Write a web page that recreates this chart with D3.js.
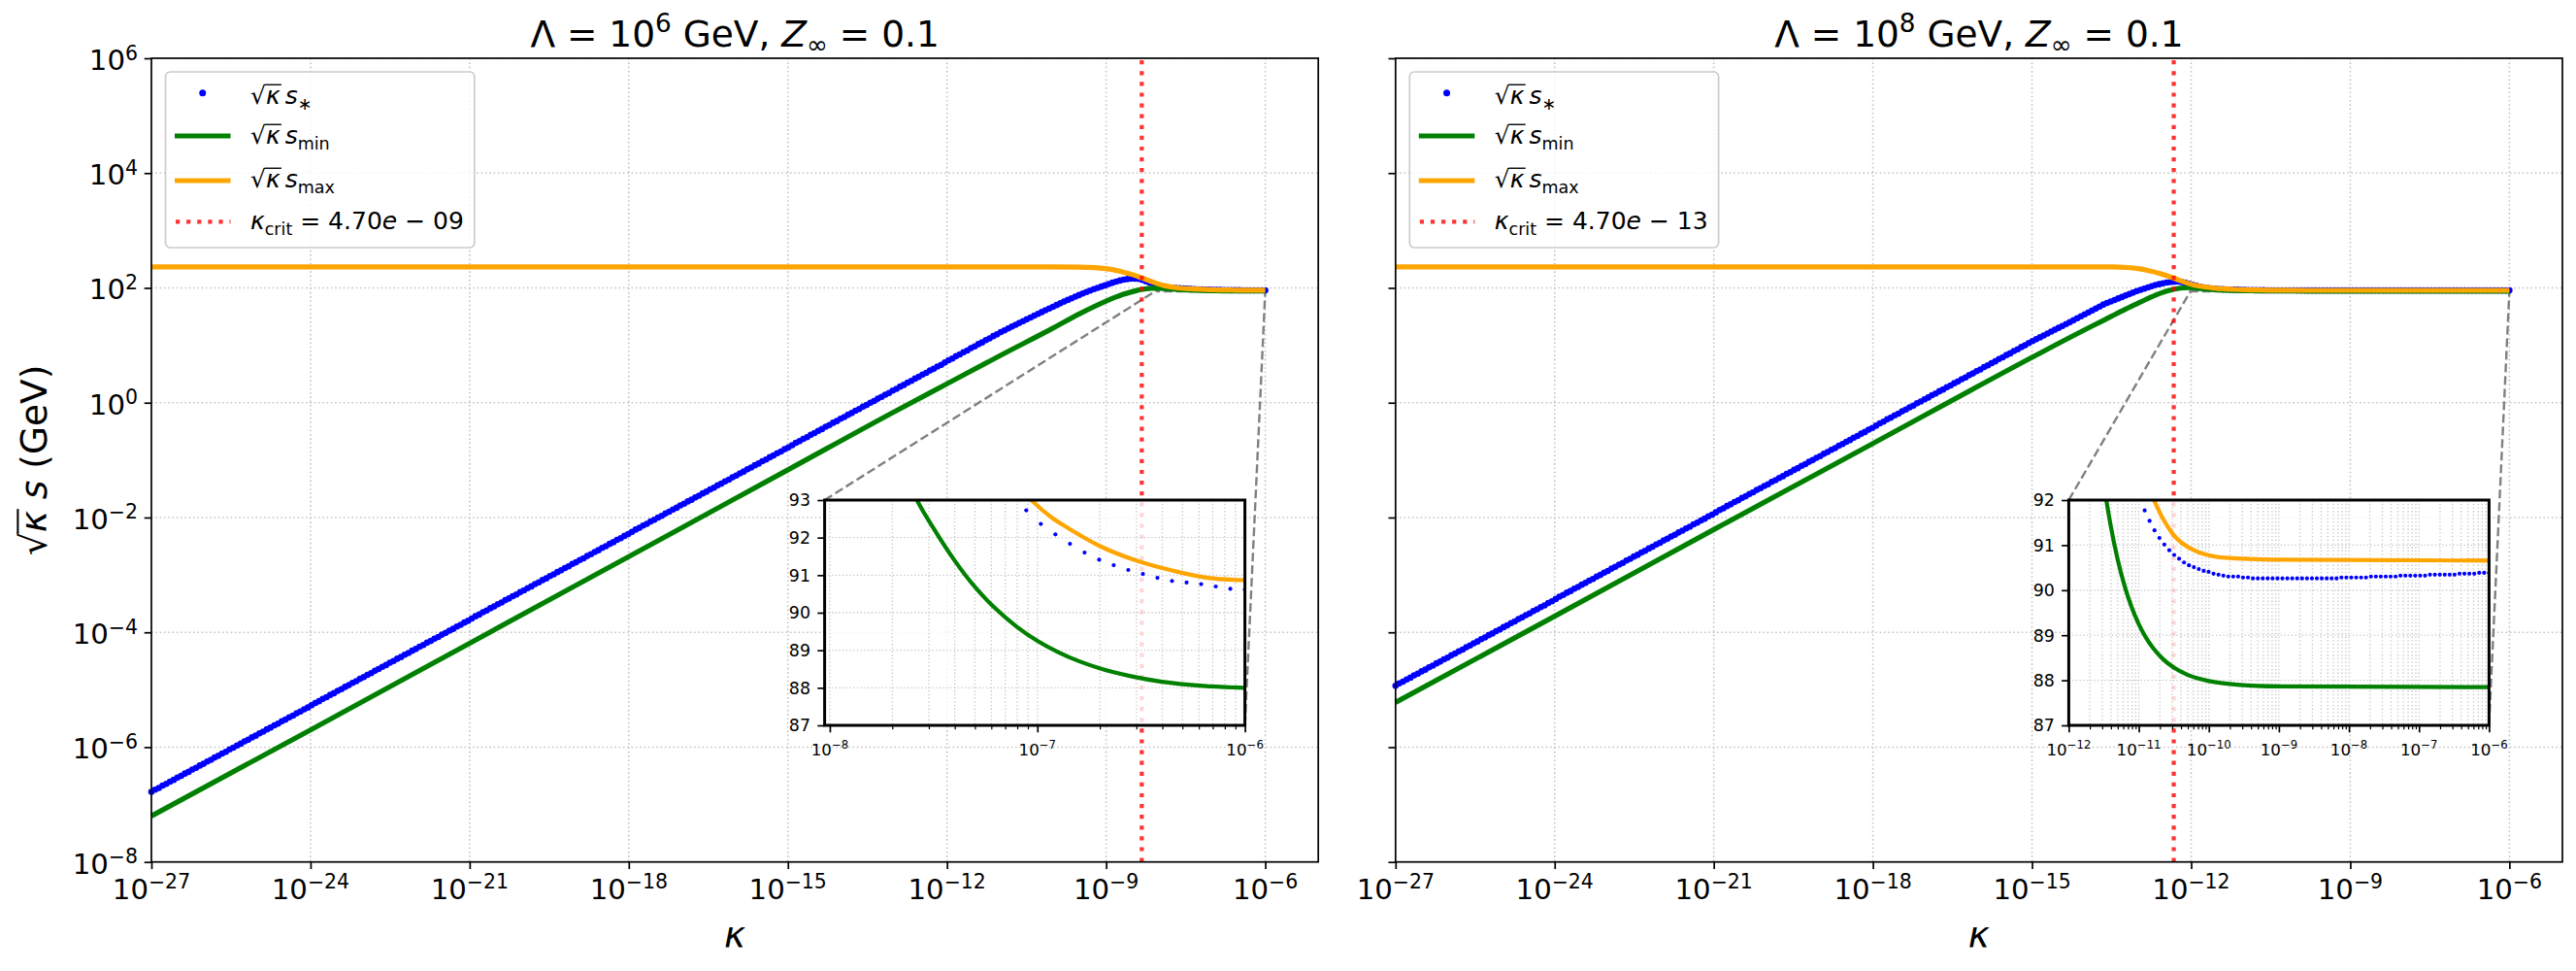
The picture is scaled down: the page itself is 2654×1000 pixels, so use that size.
<!DOCTYPE html>
<html>
<head>
<meta charset="utf-8">
<script src="https://cdn.jsdelivr.net/npm/d3@7"></script>
<style>
  body { margin: 0; background: #fff; }
  svg text { font-family: "DejaVu Sans", sans-serif; white-space: pre; fill: #000; }
</style>
</head>
<body>
<div id="chart"></div>
<script>
const width = 2654;
const height = 1000;

// kappa samples of the s* scan: 300 log-spaced points from 1e-27 to 1e-6
const kappaExp = d3.range(300).map(i => -27 + (21 * i) / 299);

// log10 of sqrt(kappa) s_* in GeV, one value per kappa sample
const sStarLeft = [
  -6.78,-6.74,-6.71,-6.67,-6.64,-6.60,-6.57,-6.53,-6.50,-6.46,
  -6.43,-6.39,-6.36,-6.32,-6.29,-6.25,-6.22,-6.18,-6.15,-6.11,
  -6.08,-6.04,-6.01,-5.97,-5.94,-5.90,-5.87,-5.83,-5.80,-5.76,
  -5.73,-5.69,-5.66,-5.62,-5.59,-5.55,-5.52,-5.48,-5.45,-5.41,
  -5.38,-5.34,-5.31,-5.27,-5.23,-5.20,-5.16,-5.13,-5.09,-5.06,
  -5.02,-4.99,-4.95,-4.92,-4.88,-4.85,-4.81,-4.78,-4.74,-4.71,
  -4.67,-4.64,-4.60,-4.57,-4.53,-4.50,-4.46,-4.43,-4.39,-4.36,
  -4.32,-4.29,-4.25,-4.22,-4.18,-4.15,-4.11,-4.08,-4.04,-4.01,
  -3.97,-3.94,-3.90,-3.87,-3.83,-3.80,-3.76,-3.72,-3.69,-3.65,
  -3.62,-3.58,-3.55,-3.51,-3.48,-3.44,-3.41,-3.37,-3.34,-3.30,
  -3.27,-3.23,-3.20,-3.16,-3.13,-3.09,-3.06,-3.02,-2.99,-2.95,
  -2.92,-2.88,-2.85,-2.81,-2.78,-2.74,-2.71,-2.67,-2.64,-2.60,
  -2.57,-2.53,-2.50,-2.46,-2.43,-2.39,-2.36,-2.32,-2.29,-2.25,
  -2.21,-2.18,-2.14,-2.11,-2.07,-2.04,-2.00,-1.97,-1.93,-1.90,
  -1.86,-1.83,-1.79,-1.76,-1.72,-1.69,-1.65,-1.62,-1.58,-1.55,
  -1.51,-1.48,-1.44,-1.41,-1.37,-1.34,-1.30,-1.27,-1.23,-1.20,
  -1.16,-1.13,-1.09,-1.06,-1.02,-0.99,-0.95,-0.92,-0.88,-0.85,
  -0.81,-0.78,-0.74,-0.70,-0.67,-0.63,-0.60,-0.56,-0.53,-0.49,
  -0.46,-0.42,-0.39,-0.35,-0.32,-0.28,-0.25,-0.21,-0.18,-0.14,
  -0.11,-0.07,-0.04,0.00,0.03,0.07,0.10,0.14,0.17,0.21,
  0.24,0.28,0.31,0.35,0.38,0.42,0.45,0.49,0.52,0.56,
  0.59,0.63,0.66,0.70,0.74,0.77,0.81,0.84,0.88,0.91,
  0.95,0.98,1.02,1.05,1.09,1.12,1.16,1.19,1.23,1.261,
  1.294,1.326,1.358,1.389,1.420,1.453,1.484,1.516,1.548,1.579,
  1.610,1.641,1.671,1.701,1.732,1.761,1.790,1.819,1.847,1.875,
  1.902,1.928,1.954,1.978,2.001,2.023,2.044,2.068,2.090,2.110,
  2.128,2.143,2.154,2.160,2.161,2.155,2.140,2.116,2.088,2.060,
  2.037,2.022,2.012,2.006,2.001,1.9975,1.9932,1.9884,1.9842,1.9805,
  1.9772,1.9742,1.9716,1.9693,1.9672,1.9655,1.9642,1.9630,1.9619,1.9610,
  1.9603,1.9597,1.9592,1.9587,1.9583,1.9581,1.9579,1.9576,1.9573,1.9572
];
const sStarRight = [
  -4.93,-4.89,-4.86,-4.82,-4.79,-4.75,-4.72,-4.68,-4.65,-4.61,
  -4.58,-4.54,-4.51,-4.47,-4.44,-4.40,-4.37,-4.33,-4.30,-4.26,
  -4.23,-4.19,-4.16,-4.12,-4.09,-4.05,-4.02,-3.98,-3.95,-3.91,
  -3.88,-3.84,-3.81,-3.77,-3.74,-3.70,-3.67,-3.63,-3.60,-3.56,
  -3.53,-3.49,-3.46,-3.42,-3.38,-3.35,-3.31,-3.28,-3.24,-3.21,
  -3.17,-3.14,-3.10,-3.07,-3.03,-3.00,-2.96,-2.93,-2.89,-2.86,
  -2.82,-2.79,-2.75,-2.72,-2.68,-2.65,-2.61,-2.58,-2.54,-2.51,
  -2.47,-2.44,-2.40,-2.37,-2.33,-2.30,-2.26,-2.23,-2.19,-2.16,
  -2.12,-2.09,-2.05,-2.02,-1.98,-1.95,-1.91,-1.87,-1.84,-1.80,
  -1.77,-1.73,-1.70,-1.66,-1.63,-1.59,-1.56,-1.52,-1.49,-1.45,
  -1.42,-1.38,-1.35,-1.31,-1.28,-1.24,-1.21,-1.17,-1.14,-1.10,
  -1.07,-1.03,-1.00,-0.96,-0.93,-0.89,-0.86,-0.82,-0.79,-0.75,
  -0.72,-0.68,-0.65,-0.61,-0.58,-0.54,-0.51,-0.47,-0.44,-0.40,
  -0.36,-0.33,-0.29,-0.26,-0.22,-0.19,-0.15,-0.12,-0.08,-0.05,
  -0.01,0.02,0.06,0.09,0.13,0.16,0.20,0.23,0.27,0.30,
  0.34,0.37,0.41,0.44,0.48,0.51,0.55,0.58,0.62,0.65,
  0.69,0.72,0.76,0.79,0.83,0.86,0.90,0.93,0.97,1.00,
  1.040,1.073,1.106,1.139,1.172,1.205,1.238,1.271,1.304,1.337,
  1.369,1.402,1.436,1.470,1.504,1.538,1.573,1.607,1.641,1.675,
  1.710,1.737,1.763,1.789,1.815,1.841,1.867,1.892,1.918,1.944,
  1.965,1.986,2.008,2.029,2.050,2.065,2.078,2.092,2.102,2.106,
  2.110,2.103,2.090,2.072,2.054,2.037,2.022,2.009,1.999,1.991,
  1.9845,1.9795,1.9758,1.9728,1.9705,1.9688,1.9673,1.9658,1.9642,1.9627,
  1.9616,1.9606,1.9598,1.9591,1.9585,1.9580,1.9576,1.9572,1.9569,1.9567,
  1.9565,1.9563,1.9562,1.9560,1.9559,1.9558,1.9557,1.9557,1.9557,1.9556,
  1.9556,1.9555,1.9555,1.9555,1.9555,1.9555,1.9555,1.9555,1.9555,1.9555,
  1.9555,1.9555,1.9555,1.9555,1.9555,1.9555,1.9555,1.9555,1.9555,1.9556,
  1.9556,1.9556,1.9556,1.9556,1.9556,1.9557,1.9557,1.9557,1.9557,1.9557,
  1.9557,1.9558,1.9558,1.9558,1.9558,1.9558,1.9558,1.9559,1.9559,1.9559,
  1.9559,1.9559,1.9559,1.9560,1.9560,1.9560,1.9560,1.9561,1.9561,1.9561
];

// [log10 kappa, log10(sqrt(kappa) s / GeV)]
const sMinLeft = [
  [-27,-7.20],[-24,-5.70],[-21,-4.19],[-18,-2.68],[-15,-1.17],[-13,-0.16],[-12,0.33],
  [-11,0.82],[-10,1.30],[-9.5,1.55],[-9,1.77],[-8.7,1.88],[-8.4,1.96],[-8.15,1.995],
  [-7.95,1.995],[-7.75,1.980],[-7.58,1.96848],[-7.5,1.96496],[-7.4,1.96095],[-7.3,1.95751],
  [-7.2,1.95473],[-7.1,1.95245],[-7.0,1.95061],[-6.9,1.94915],[-6.8,1.94797],[-6.7,1.94704],
  [-6.55,1.94601],[-6.4,1.94527],[-6.2,1.94473],[-6.0,1.94448]
];
const sMaxLeft = [
  [-27,2.365],[-10,2.365],[-9.5,2.360],[-9.0,2.335],[-8.7,2.280],[-8.5,2.230],[-8.33,2.175],
  [-8.1,2.095],[-7.9,2.040],[-7.65,2.000],[-7.35,1.980],[-7.03,1.9685],[-6.931,1.9663],
  [-6.847,1.9649],[-6.705,1.9628],[-6.513,1.9608],[-6.346,1.9596],[-6.179,1.9587],[-6.0,1.9584]
];
const sMinRight = [
  [-27,-5.22],[-24,-3.72],[-21,-2.21],[-18,-0.71],[-15,0.79],[-14.25,1.155],[-13.64,1.44],
  [-13.3,1.60],[-13.03,1.72],[-12.8,1.82],[-12.6,1.90],[-12.33,1.975],[-12.15,2.0],[-12.0,2.005],
  [-11.8,1.9868],[-11.6,1.97108],[-11.464,1.96379],[-11.4,1.96104],[-11.3,1.95746],[-11.2,1.95463],
  [-11.1,1.95238],[-11.0,1.95059],[-10.9,1.94916],[-10.8,1.94803],[-10.65,1.94676],[-10.5,1.94587],
  [-10.3,1.94507],[-10.0,1.94440],[-9.6,1.94400],[-9.0,1.94381],[-6.0,1.94374]
];
const sMaxRight = [
  [-27,2.365],[-13.5,2.365],[-13.2,2.355],[-13.0,2.335],[-12.8,2.30],[-12.6,2.255],[-12.4,2.195],
  [-12.2,2.125],[-12.0,2.065],[-11.8,2.025],[-11.5,1.990],[-11.2,1.974],[-11.0,1.967],
  [-10.785,1.9638],[-10.66,1.9619],[-10.513,1.9602],[-10.215,1.9585],[-9.769,1.9577],
  [-9.025,1.9575],[-6.0,1.9574]
];

const kappaTickExp = [-27, -24, -21, -18, -15, -12, -9, -6];
const sTickExp = [-8, -6, -4, -2, 0, 2, 4, 6];
const lambdaExp = ["6", "8"];
const kappaCrit = [4.70e-9, 4.70e-13];
const kappaCritLabel = ["4.70e − 09", "4.70e − 13"];
const insetKappaExp = [[-8.025, -6], [-12, -6]];
const insetS = [[87, 93], [87, 92]];

// layout
const axTop = 60, axBottom = 887.7, axW = 1202.2;
const panelLeft = [156, 1437.8];
const gridColor = "#c6c6c6";

const svg = d3.select("#chart").append("svg")
  .attr("width", width).attr("height", height)
  .style("background", "#fff");

// small mathtext-like renderer: pieces placed one after another
function mathText(parent, segs, size, o = {}) {
  const g = parent.append("g");
  const supDy = o.supDy ?? 0.36, subDy = o.subDy ?? 0.22;
  let cx = 0;
  const bars = [];
  segs.forEach(s => {
    const small = s.sub || s.sup;
    const t = g.append("text")
      .attr("x", cx)
      .attr("y", s.sub ? size * subDy : s.sup ? -size * supDy : 0)
      .attr("font-size", small ? size * 0.7 : size)
      .attr("font-style", s.it ? "italic" : "normal")
      .text(s.t);
    const w = t.node().getComputedTextLength();
    if (s.bar) bars.push([cx, cx + w]);
    cx += w;
  });
  bars.forEach(([a, b]) => {
    g.append("line")
      .attr("x1", a - size * 0.02).attr("x2", b + size * 0.05)
      .attr("y1", -size * 0.79).attr("y2", -size * 0.79)
      .attr("stroke", "#000").attr("stroke-width", size * 0.055);
  });
  return { g, w: cx };
}
function place(m, x, y, anchor = "start", rot = 0) {
  const dx = anchor === "middle" ? -m.w / 2 : anchor === "end" ? -m.w : 0;
  m.g.attr("transform", `translate(${x},${y}) rotate(${rot}) translate(${dx},0)`);
}
const pow10 = e => [{ t: "10" }, { t: (e < 0 ? "−" : "") + Math.abs(e), sup: true }];
const sqrtKappa = [{ t: "√" }, { t: "κ", it: true, bar: true }];

function styleAxis(sel, w) {
  sel.select(".domain").remove();
  sel.selectAll(".tick line").attr("stroke", "#000").attr("stroke-width", w);
}

function drawPanel(k) {
  const left = panelLeft[k], right = left + axW;
  const sStar = k === 0 ? sStarLeft : sStarRight;
  const sMin = k === 0 ? sMinLeft : sMinRight;
  const sMax = k === 0 ? sMaxLeft : sMaxRight;

  const x = d3.scaleLog().domain([1e-27, 1e-5]).range([left, right]);
  const y = d3.scaleLog().domain([1e-8, 1e6]).range([axBottom, axTop]);
  const X = e => x(10 ** e), Y = v => y(10 ** v);
  const g = svg.append("g");

  // grid
  const grid = g.append("g").attr("stroke", gridColor)
    .attr("stroke-width", 1.6).attr("stroke-dasharray", "1.6,2.7");
  kappaTickExp.forEach(e => grid.append("line")
    .attr("x1", X(e)).attr("x2", X(e)).attr("y1", axTop).attr("y2", axBottom));
  sTickExp.forEach(e => grid.append("line")
    .attr("x1", left).attr("x2", right).attr("y1", Y(e)).attr("y2", Y(e)));

  // inset geometry
  const ins = { x: left + 693.6, y: 515, w: 433, h: 232 };
  const [kx0, kx1] = insetKappaExp[k];
  const [s0, s1] = insetS[k];
  const ix = d3.scaleLog().domain([10 ** kx0, 10 ** kx1]).range([ins.x, ins.x + ins.w]);
  const iy = d3.scaleLinear().domain([s0, s1]).range([ins.y + ins.h, ins.y]);

  // zoom box and connectors
  const rx0 = X(kx0), rx1 = X(kx1), ry0 = y(s1), ry1 = y(s0);
  const conn = g.append("g").attr("stroke", "#808080").attr("stroke-width", 2.4)
    .attr("stroke-dasharray", "9,4").attr("fill", "none");
  conn.append("rect").attr("x", rx0).attr("y", ry0).attr("width", rx1 - rx0).attr("height", ry1 - ry0);
  conn.append("line").attr("x1", ins.x).attr("y1", ins.y).attr("x2", rx0).attr("y2", ry0);
  conn.append("line").attr("x1", ins.x + ins.w).attr("y1", ins.y + ins.h).attr("x2", rx1).attr("y2", ry1);

  // data
  g.append("g").attr("fill", "blue").selectAll("circle")
    .data(kappaExp).join("circle")
    .attr("cx", d => X(d)).attr("cy", (d, i) => Y(sStar[i])).attr("r", 3.3);
  const line = d3.line().x(d => X(d[0])).y(d => Y(d[1])).curve(d3.curveMonotoneX);
  g.append("path").attr("d", line(sMin)).attr("fill", "none")
    .attr("stroke", "green").attr("stroke-width", 5.2);
  g.append("path").attr("d", line(sMax)).attr("fill", "none")
    .attr("stroke", "orange").attr("stroke-width", 5.2);
  g.append("line")
    .attr("x1", x(kappaCrit[k])).attr("x2", x(kappaCrit[k]))
    .attr("y1", axBottom).attr("y2", axTop)
    .attr("stroke", "red").attr("stroke-opacity", 0.8)
    .attr("stroke-width", 4.2).attr("stroke-dasharray", "4.2,6.9");

  // spines + ticks
  g.append("rect").attr("x", left).attr("y", axTop).attr("width", axW)
    .attr("height", axBottom - axTop).attr("fill", "none")
    .attr("stroke", "#000").attr("stroke-width", 1.7);
  g.append("g").attr("transform", `translate(0,${axBottom})`)
    .call(d3.axisBottom(x).tickValues(kappaTickExp.map(e => 10 ** e))
      .tickSize(7.3).tickSizeOuter(0).tickFormat(""))
    .call(a => styleAxis(a, 1.7));
  g.append("g").attr("transform", `translate(${left},0)`)
    .call(d3.axisLeft(y).tickValues(sTickExp.map(e => 10 ** e))
      .tickSize(7.3).tickSizeOuter(0).tickFormat(""))
    .call(a => styleAxis(a, 1.7));
  kappaTickExp.forEach(e => place(mathText(g, pow10(e), 29.2), X(e), axBottom + 38, "middle"));
  if (k === 0) {
    sTickExp.forEach(e => place(mathText(g, pow10(e), 29.2), left - 14, Y(e) + 12, "end"));
    place(mathText(g, [...sqrtKappa, { t: " " }, { t: "s", it: true }, { t: " (GeV)" }], 37.5),
      48, (axTop + axBottom) / 2, "middle", -90);
  }
  place(mathText(g, [{ t: "κ", it: true }], 37.5), (left + right) / 2, 976, "middle");
  place(mathText(g, [{ t: "Λ = 10" }, { t: lambdaExp[k], sup: true }, { t: " GeV, " },
    { t: "Z", it: true }, { t: "∞", sub: true }, { t: " = 0.1" }], 37.5, { supDy: 0.4, subDy: 0.19 }),
    (left + right) / 2, 48, "middle");

  // legend
  const lx = left + 14.5, ly = axTop + 14;
  const lg = g.append("g");
  const box = lg.append("rect").attr("x", lx).attr("y", ly).attr("height", 181)
    .attr("rx", 5).attr("fill", "#fff").attr("fill-opacity", 0.8)
    .attr("stroke", "#cccccc").attr("stroke-width", 1.7);
  const rows = [
    { segs: [...sqrtKappa, { t: "\u2009" }, { t: "s", it: true }, { t: "∗", sub: true }], base: 33, mid: 21.7 },
    { segs: [...sqrtKappa, { t: "\u2009" }, { t: "s", it: true }, { t: "min", sub: true }], base: 74, mid: 66 },
    { segs: [...sqrtKappa, { t: "\u2009" }, { t: "s", it: true }, { t: "max", sub: true }], base: 119, mid: 112 },
    { segs: [{ t: "κ", it: true }, { t: "crit", sub: true }, { t: " = 4.70" }, { t: "e", it: true },
      { t: kappaCritLabel[k].slice(5) }], base: 162, mid: 154.3 }
  ];
  let maxW = 0;
  rows.forEach(r => {
    const m = mathText(lg, r.segs, 25);
    place(m, lx + 87.5, ly + r.base);
    maxW = Math.max(maxW, m.w);
  });
  box.attr("width", 87.5 + maxW + 11);
  const hx0 = lx + 9.5, hx1 = lx + 67;
  lg.append("circle").attr("cx", (hx0 + hx1) / 2).attr("cy", ly + rows[0].mid).attr("r", 3.5).attr("fill", "blue");
  lg.append("line").attr("x1", hx0).attr("x2", hx1).attr("y1", ly + rows[1].mid).attr("y2", ly + rows[1].mid)
    .attr("stroke", "green").attr("stroke-width", 5.2);
  lg.append("line").attr("x1", hx0).attr("x2", hx1).attr("y1", ly + rows[2].mid).attr("y2", ly + rows[2].mid)
    .attr("stroke", "orange").attr("stroke-width", 5.2);
  lg.append("line").attr("x1", hx0 + 1).attr("x2", hx1).attr("y1", ly + rows[3].mid).attr("y2", ly + rows[3].mid)
    .attr("stroke", "red").attr("stroke-opacity", 0.8).attr("stroke-width", 4.2).attr("stroke-dasharray", "4.2,6.9");

  // inset axes
  const ig = g.append("g");
  ig.append("rect").attr("x", ins.x).attr("y", ins.y).attr("width", ins.w).attr("height", ins.h)
    .attr("fill", "#fff").attr("fill-opacity", 0.8);
  const majors = d3.range(Math.ceil(kx0), kx1 + 1);
  const minors = [];
  d3.range(Math.floor(kx0), kx1).forEach(d => {
    for (let j = 2; j <= 9; j++) {
      const e = d + Math.log10(j);
      if (e > kx0 && e < kx1) minors.push(e);
    }
  });
  const sTicks = d3.range(s0, s1 + 1);
  const igrid = ig.append("g").attr("stroke", gridColor).attr("stroke-width", 1.3)
    .attr("stroke-dasharray", "1.3,2.4");
  majors.concat(minors).forEach(e => igrid.append("line")
    .attr("x1", ix(10 ** e)).attr("x2", ix(10 ** e)).attr("y1", ins.y).attr("y2", ins.y + ins.h));
  sTicks.forEach(v => igrid.append("line")
    .attr("x1", ins.x).attr("x2", ins.x + ins.w).attr("y1", iy(v)).attr("y2", iy(v)));

  const clipId = "inset-clip-" + k;
  ig.append("clipPath").attr("id", clipId).append("rect")
    .attr("x", ins.x).attr("y", ins.y).attr("width", ins.w).attr("height", ins.h);
  const idata = ig.append("g").attr("clip-path", `url(#${clipId})`);
  idata.append("g").attr("fill", "blue").selectAll("circle")
    .data(kappaExp).join("circle")
    .attr("cx", d => ix(10 ** d)).attr("cy", (d, i) => iy(10 ** sStar[i])).attr("r", 2.1);
  const iline = d3.line().x(d => ix(10 ** d[0])).y(d => iy(10 ** d[1])).curve(d3.curveMonotoneX);
  idata.append("path").attr("d", iline(sMin)).attr("fill", "none")
    .attr("stroke", "green").attr("stroke-width", 4.2);
  idata.append("path").attr("d", iline(sMax)).attr("fill", "none")
    .attr("stroke", "orange").attr("stroke-width", 4.2);

  ig.append("rect").attr("x", ins.x).attr("y", ins.y).attr("width", ins.w).attr("height", ins.h)
    .attr("fill", "none").attr("stroke", "#000").attr("stroke-width", 3);
  ig.append("g").attr("transform", `translate(0,${ins.y + ins.h})`)
    .call(d3.axisBottom(ix).tickValues(majors.map(e => 10 ** e)).tickSize(7.3).tickSizeOuter(0).tickFormat(""))
    .call(a => styleAxis(a, 1.7));
  ig.append("g").attr("transform", `translate(0,${ins.y + ins.h})`)
    .call(d3.axisBottom(ix).tickValues(minors.map(e => 10 ** e)).tickSize(4.2).tickSizeOuter(0).tickFormat(""))
    .call(a => styleAxis(a, 1.2));
  ig.append("g").attr("transform", `translate(${ins.x},0)`)
    .call(d3.axisLeft(iy).tickValues(sTicks).tickSize(7.3).tickSizeOuter(0).tickFormat(""))
    .call(a => styleAxis(a, 1.7));
  majors.forEach(e => place(mathText(ig, pow10(e), 16.7, { supDy: 0.45 }), ix(10 ** e), ins.y + ins.h + 31, "middle"));
  sTicks.forEach(v => place(mathText(ig, [{ t: String(v) }], 17.4), ins.x - 14.6, iy(v) + 6.4, "end"));
}

drawPanel(0);
drawPanel(1);
</script>
</body>
</html>
